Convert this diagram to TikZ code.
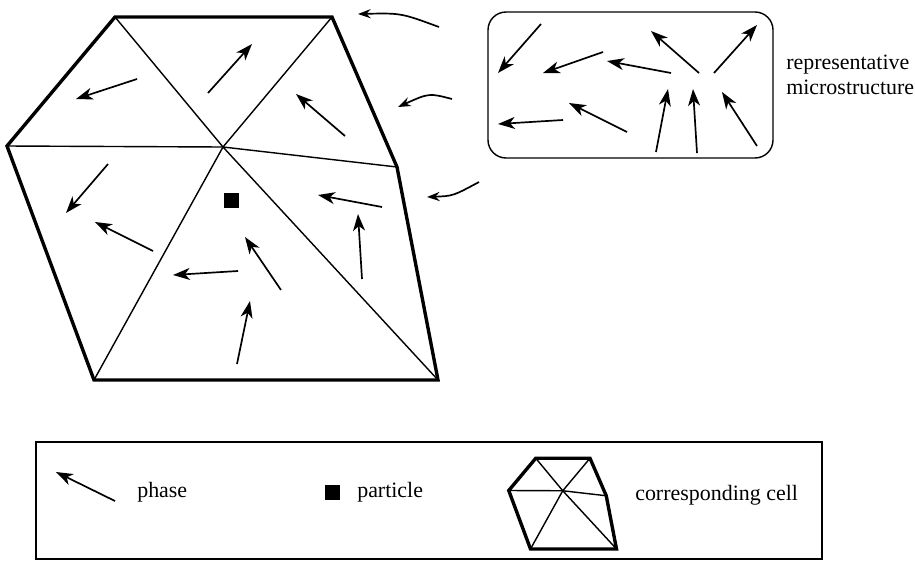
\documentclass[tikz,border=0pt]{standalone}
\usepackage{fontspec}
\setmainfont{Liberation Serif}
\usetikzlibrary{arrows.meta}

% the cell: outer boundary and the edges to its centre
\newcommand{\hexcell}{%
    \coordinate (A) at (115,17);
    \coordinate (B) at (332,17);
    \coordinate (C) at (397,167);
    \coordinate (D) at (438,380);
    \coordinate (E) at (94,380);
    \coordinate (F) at (7,146);
    \coordinate (O) at (223,147);
    \foreach \v in {A,B,C,D,E,F} \draw[edge] (O) -- (\v);
    \draw[rim] (A) -- (B) -- (C) -- (D) -- (E) -- (F) -- cycle;
}

\begin{document}
\begin{tikzpicture}[x=0.025cm, y=-0.025cm,
    edge/.style={line width=1pt},
    rim/.style={line width=2.4pt, line join=miter},
    phase/.style={line width=1.2pt, -{Stealth[length=12pt, width=8.5pt, inset=3.5pt]}},
    swirl/.style={line width=1.2pt, -{Stealth[length=9pt, width=6.5pt, inset=3pt]}},
    particle/.style={fill=black, minimum size=0.375cm, inner sep=0pt},
    label/.style={font=\rmfamily\fontsize{15.6}{17.8}\selectfont, inner sep=0pt, anchor=west, align=left}]

    \useasboundingbox (0,0) rectangle (915,561);

    % Big cell
    \hexcell
    \node[particle] (part) at (231,200) {};

    % Phase arrows in the cell
    \draw[phase] (208,93) -- (252,44);
    \draw[phase] (137,79) -- (76,99);
    \draw[phase] (345,136) -- (296,94);
    \draw[phase] (108,164) -- (66,213);
    \draw[phase] (153,251) -- (95,222);
    \draw[phase] (238,271) -- (173,275);
    \draw[phase] (281,290) -- (245,237);
    \draw[phase] (382,207) -- (318,195);
    \draw[phase] (362,279) -- (358,214);
    \draw[phase] (237,364) -- (250,301);

    % Curved arrows from the microstructure to the cell
    \draw[swirl] (439,27) .. controls (401,13) .. (358,14);
    \draw[swirl] (452,99) .. controls (429,93) .. (398,107);
    \draw[swirl] (479,182) .. controls (453,196) .. (427,197);

    % Representative microstructure
    \draw[line width=1pt, rounded corners=0.45cm] (488,12) rectangle (773,158);
    \draw[phase] (541,24) -- (498,73);
    \draw[phase] (603,52) -- (543,73);
    \draw[phase] (671,73) -- (607,61);
    \draw[phase] (699,73) -- (651,31);
    \draw[phase] (714,73) -- (757,25);
    \draw[phase] (563,120) -- (498,124);
    \draw[phase] (627,132) -- (569,103);
    \draw[phase] (656,152) -- (668,89);
    \draw[phase] (697,153) -- (693,89);
    \draw[phase] (757,146) -- (722,92);
    \node[label] (rve) at (786,75) {representative\\microstructure};

    % Legend
    \draw[line width=1.1pt] (36,442) rectangle (822,559);
    \draw[phase] (115,501) -- (56,472);
    \node[label] (phs) at (137,492) {phase};
    \node[particle] (lpart) at (332,492) {};
    \node[label] (prt) at (357,492) {particle};
    \begin{scope}[shift={(507,454)}, scale=0.25]
        \hexcell
    \end{scope}
    \node[label] (cell) at (635,495) {corresponding cell};
\end{tikzpicture}
\end{document}
